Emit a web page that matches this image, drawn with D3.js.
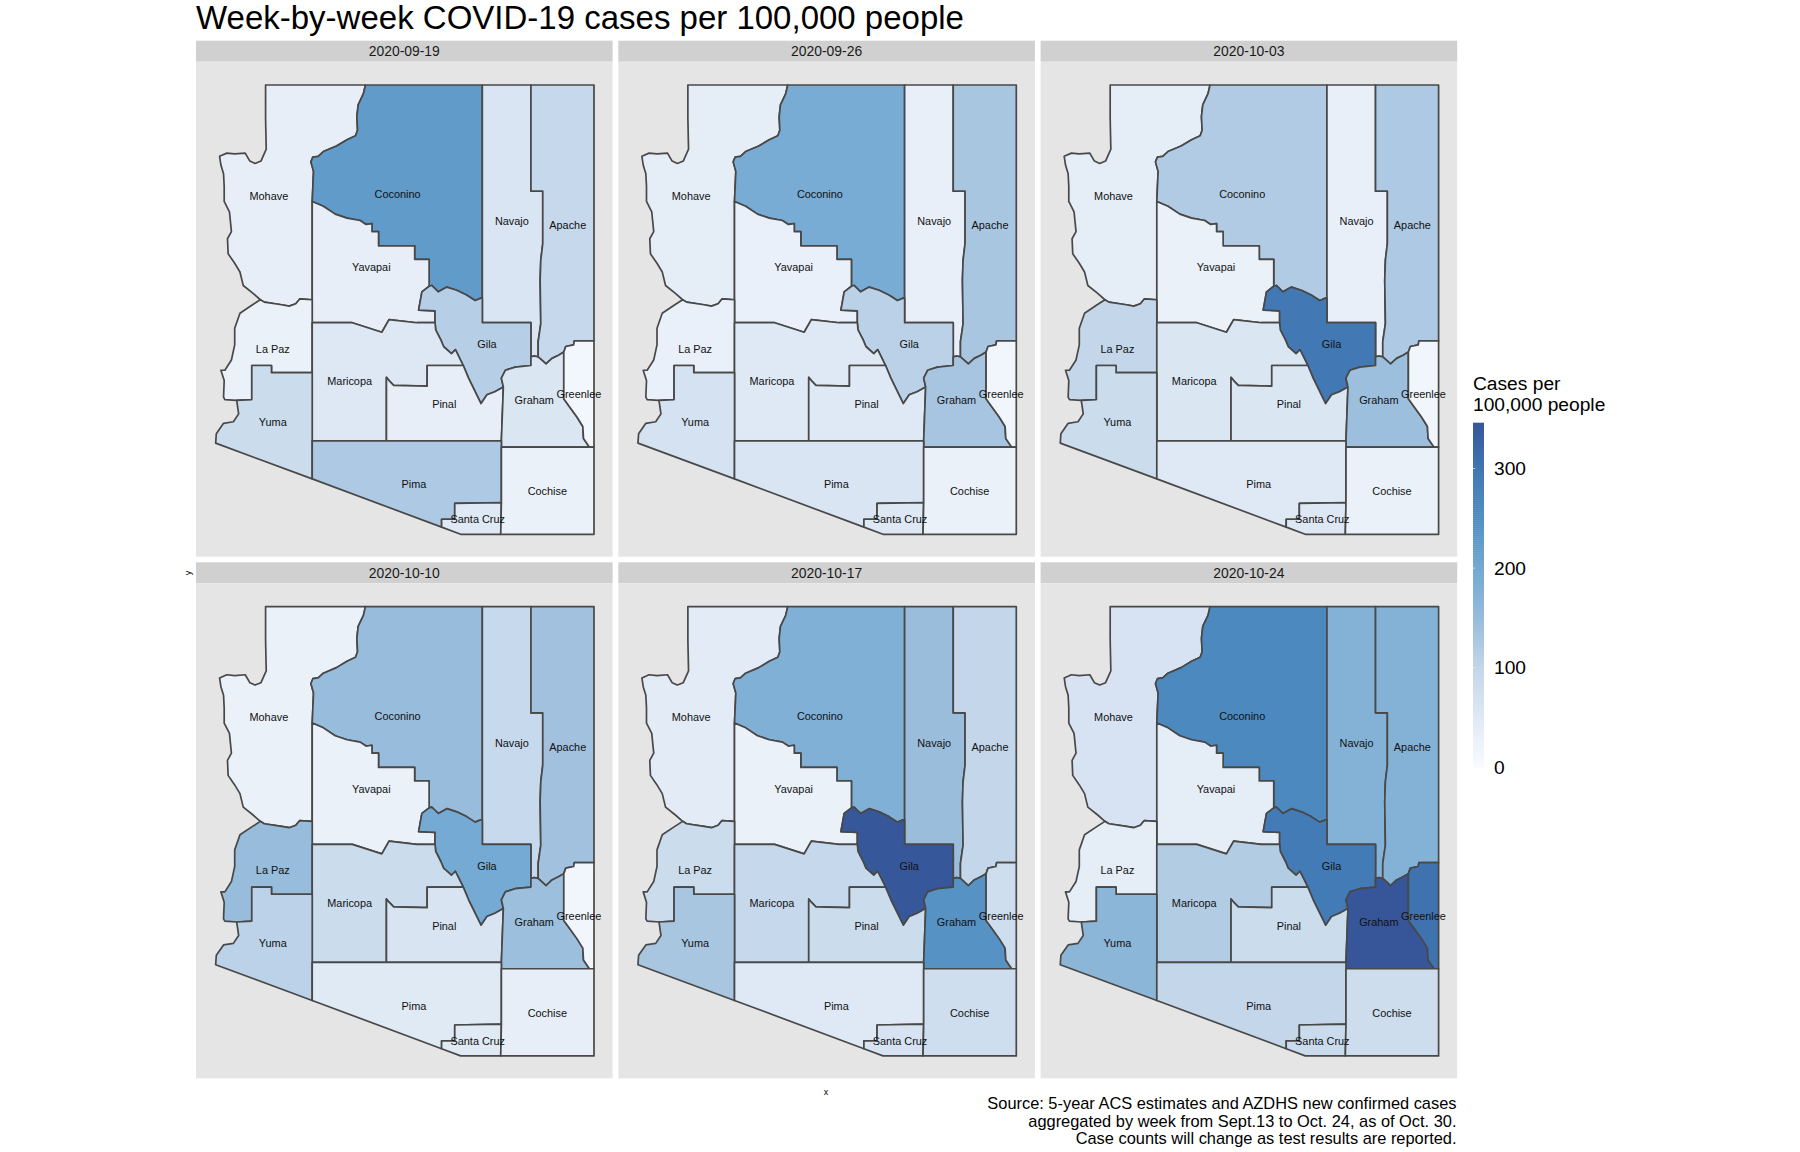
<!DOCTYPE html>
<html>
<head>
<meta charset="utf-8">
<style>
  body { margin: 0; background: #fff; }
  text { font-family: "Liberation Sans", Arial, sans-serif; }
</style>
<script src="https://cdn.jsdelivr.net/npm/d3@7"></script>
</head>
<body>
<div id="chart"></div>
<script>
const weeks = ["2020-09-19", "2020-09-26", "2020-10-03", "2020-10-10", "2020-10-17", "2020-10-24"];
const counties = ["Mohave", "Coconino", "Navajo", "Apache", "Yavapai", "Gila", "La Paz", "Maricopa", "Pinal", "Graham", "Greenlee", "Yuma", "Pima", "Santa Cruz", "Cochise"];

// cases per 100,000, same order as counties
const casesWeek1 = [35, 225, 60, 95, 35, 115, 28, 52, 35, 58, 12, 85, 125, 50, 28];
const casesWeek2 = [38, 190, 32, 130, 30, 110, 30, 50, 50, 132, 15, 68, 60, 52, 28];
const casesWeek3 = [38, 122, 32, 125, 28, 295, 98, 57, 58, 145, 15, 85, 50, 52, 28];
const casesWeek4 = [28, 150, 92, 140, 28, 195, 150, 85, 62, 145, 15, 108, 48, 48, 35];
const casesWeek5 = [45, 180, 148, 100, 28, 345, 85, 95, 85, 240, 80, 130, 50, 65, 80];
const casesWeek6 = [65, 260, 175, 175, 38, 290, 38, 120, 85, 346, 305, 165, 100, 88, 82];
const casesByWeek = [casesWeek1, casesWeek2, casesWeek3, casesWeek4, casesWeek5, casesWeek6];

const labelLon = [-114.00, -112.04, -110.30, -109.45, -112.44, -110.68, -113.94, -112.77, -111.33, -109.96, -109.28, -113.94, -111.79, -110.82, -109.76];
const labelLat = [35.60, 35.62, 35.28, 35.23, 34.70, 33.73, 33.67, 33.26, 32.97, 33.02, 33.10, 32.75, 31.96, 31.52, 31.87];

const legendTicks = [0, 100, 200, 300];
const legendStops = [0, 50, 100, 150, 200, 250, 300, 346];
const legendColors = ["#f8fbff", "#dfe9f5", "#c3d6ea", "#98bcdb", "#70a8d2", "#4f8dc1", "#4077b3", "#37569a"];

// county borders as lon/lat, shared between neighbours
const arcs = {
  topMohave: [[-114.05,37],[-112.53,37]],
  topCoconino: [[-112.53,37],[-110.75,37]],
  topNavajo: [[-110.75,37],[-110.01,37]],
  topApache: [[-110.01,37],[-109.05,37]],
  mohaveRiver: [[-114.05,37],[-114.05,36.58],[-114.04,36.19],[-114.12,36.04],[-114.21,36.01],[-114.29,36.04],[-114.36,36.14],[-114.52,36.13],[-114.64,36.14],[-114.75,36.10],[-114.73,35.99],[-114.69,35.88],[-114.68,35.72],[-114.68,35.53],[-114.60,35.40],[-114.57,35.15],[-114.63,35.06],[-114.62,34.87],[-114.52,34.75],[-114.44,34.64],[-114.39,34.47],[-114.24,34.37],[-114.13,34.29]],
  mohaveLaPaz: [[-114.13,34.29],[-114.07,34.26],[-113.83,34.23],[-113.69,34.21],[-113.59,34.24],[-113.53,34.30],[-113.34,34.29]],
  mohaveYavapai: [[-113.34,34.29],[-113.34,35.53]],
  mohaveCoconino: [[-113.34,35.53],[-113.32,35.91],[-113.36,36.03],[-113.33,36.09],[-113.25,36.10],[-113.17,36.16],[-112.97,36.23],[-112.81,36.31],[-112.68,36.36],[-112.65,36.43],[-112.66,36.60],[-112.64,36.75],[-112.56,36.89],[-112.53,37]],
  coconinoYavapai: [[-113.34,35.53],[-113.17,35.47],[-112.99,35.37],[-112.81,35.32],[-112.61,35.29],[-112.52,35.24],[-112.43,35.25],[-112.43,35.15],[-112.33,35.15],[-112.33,34.97],[-111.78,34.97],[-111.78,34.80],[-111.56,34.80],[-111.56,34.46]],
  coconinoGila: [[-111.56,34.46],[-111.52,34.47],[-111.47,34.43],[-111.42,34.39],[-111.29,34.45],[-111.14,34.41],[-110.99,34.35],[-110.86,34.28],[-110.77,34.31]],
  coconinoNavajo: [[-110.75,37],[-110.75,34.31]],
  gilaNavajo: [[-110.77,34.31],[-110.75,34.31],[-110.75,34.00],[-110.01,34.00]],
  yavapaiGila: [[-111.56,34.46],[-111.67,34.39],[-111.72,34.16],[-111.47,34.15],[-111.47,34.00]],
  yavapaiMaricopa: [[-113.34,34.00],[-112.73,34.00],[-112.28,33.88],[-112.17,34.04],[-111.75,34.00],[-111.47,34.00]],
  laPazYavapai: [[-113.34,34.29],[-113.34,34.00]],
  laPazMaricopa: [[-113.34,34.00],[-113.34,33.37]],
  yumaMaricopa: [[-113.34,33.37],[-113.34,32.51]],
  yumaPima: [[-113.34,32.51],[-113.34,32.03]],
  maricopaGila: [[-111.47,34.00],[-111.46,33.91],[-111.38,33.78],[-111.34,33.70],[-111.22,33.61],[-111.16,33.66],[-111.04,33.46]],
  gilaPinal: [[-111.04,33.46],[-110.96,33.30],[-110.77,32.98]],
  gilaPinalEast: [[-110.77,32.98],[-110.68,33.09],[-110.56,33.13],[-110.43,33.19]],
  gilaGraham: [[-110.43,33.19],[-110.46,33.30],[-110.40,33.40],[-110.25,33.44],[-110.01,33.46]],
  gilaEastGraham: [[-110.01,33.46],[-110.01,33.57]],
  gilaEastNavajo: [[-110.01,33.57],[-110.01,34.00]],
  navajoApache: [[-110.01,37],[-110.01,35.66],[-109.83,35.66],[-109.83,35.00],[-109.86,34.79],[-109.87,34.54],[-109.86,33.99],[-109.90,33.76],[-109.90,33.57]],
  navajoGraham: [[-109.90,33.57],[-109.96,33.58],[-110.01,33.57]],
  apacheGraham: [[-109.90,33.57],[-109.78,33.48],[-109.69,33.55],[-109.59,33.59],[-109.51,33.63]],
  apacheGreenlee: [[-109.51,33.63],[-109.48,33.70],[-109.36,33.72],[-109.35,33.77],[-109.05,33.77]],
  eastApache: [[-109.05,37],[-109.05,33.77]],
  eastGreenlee: [[-109.05,33.77],[-109.05,32.43]],
  bottomGreenlee: [[-109.05,32.43],[-109.12,32.43]],
  grahamGreenlee: [[-109.51,33.63],[-109.51,33.04],[-109.44,32.96],[-109.31,32.81],[-109.22,32.69],[-109.21,32.54],[-109.12,32.43]],
  bottomGraham: [[-109.12,32.43],[-110.46,32.43]],
  grahamPinal: [[-110.43,33.19],[-110.46,32.51]],
  grahamPima: [[-110.46,32.51],[-110.46,32.43]],
  maricopaPinal: [[-112.21,32.51],[-112.21,33.31],[-112.17,33.27],[-112.10,33.21],[-111.59,33.20],[-111.59,33.46],[-111.04,33.46]],
  pinalPima: [[-112.21,32.51],[-110.46,32.51]],
  maricopaPima: [[-113.34,32.51],[-112.21,32.51]],
  laPazYuma: [[-113.34,33.37],[-113.96,33.37],[-113.96,33.46],[-114.26,33.46],[-114.26,33.03],[-114.49,33.02]],
  laPazRiver: [[-114.13,34.29],[-114.26,34.22],[-114.44,34.12],[-114.52,33.93],[-114.52,33.72],[-114.57,33.53],[-114.67,33.40],[-114.73,33.40],[-114.68,33.27],[-114.69,33.06],[-114.67,33.03],[-114.49,33.02]],
  yumaRiver: [[-114.49,33.02],[-114.46,32.85],[-114.54,32.75],[-114.69,32.73],[-114.80,32.60],[-114.81,32.48]],
  swYuma: [[-114.81,32.48],[-113.34,32.03]],
  swPima: [[-113.34,32.03],[-111.37,31.42]],
  pimaCochise: [[-110.46,32.43],[-110.46,31.73]],
  pimaSantaCruz: [[-110.46,31.73],[-111.17,31.72],[-111.17,31.52],[-111.37,31.52],[-111.37,31.42]],
  swSantaCruz: [[-111.37,31.42],[-111.08,31.33]],
  bottomSantaCruz: [[-111.08,31.33],[-110.47,31.33]],
  santaCruzCochise: [[-110.47,31.33],[-110.46,31.73]],
  eastCochise: [[-109.05,32.43],[-109.05,31.33]],
  bottomCochise: [[-109.05,31.33],[-110.47,31.33]]
};

// rings per county, "-" means walk the arc backwards
const rings = {
  "Mohave": ["topMohave", "-mohaveCoconino", "-mohaveYavapai", "-mohaveLaPaz", "-mohaveRiver"],
  "Coconino": ["topCoconino", "coconinoNavajo", "-coconinoGila", "-coconinoYavapai", "mohaveCoconino"],
  "Navajo": ["topNavajo", "navajoApache", "navajoGraham", "gilaEastNavajo", "-gilaNavajo", "-coconinoNavajo"],
  "Apache": ["topApache", "eastApache", "-apacheGreenlee", "-apacheGraham", "-navajoApache"],
  "Yavapai": ["coconinoYavapai", "yavapaiGila", "-yavapaiMaricopa", "-laPazYavapai", "mohaveYavapai"],
  "Gila": ["coconinoGila", "gilaNavajo", "-gilaEastNavajo", "-gilaEastGraham", "-gilaGraham", "-gilaPinalEast", "-gilaPinal", "-maricopaGila", "-yavapaiGila"],
  "La Paz": ["mohaveLaPaz", "laPazYavapai", "laPazMaricopa", "laPazYuma", "-laPazRiver"],
  "Maricopa": ["yavapaiMaricopa", "maricopaGila", "-maricopaPinal", "-maricopaPima", "-yumaMaricopa", "-laPazMaricopa"],
  "Pinal": ["maricopaPinal", "gilaPinal", "gilaPinalEast", "grahamPinal", "-pinalPima"],
  "Graham": ["-navajoGraham", "apacheGraham", "grahamGreenlee", "bottomGraham", "-grahamPima", "-grahamPinal", "gilaGraham", "gilaEastGraham"],
  "Greenlee": ["apacheGreenlee", "eastGreenlee", "bottomGreenlee", "-grahamGreenlee"],
  "Yuma": ["-laPazYuma", "yumaMaricopa", "yumaPima", "-swYuma", "-yumaRiver"],
  "Pima": ["maricopaPima", "pinalPima", "grahamPima", "pimaCochise", "pimaSantaCruz", "-swPima", "-yumaPima"],
  "Santa Cruz": ["pimaSantaCruz", "swSantaCruz", "bottomSantaCruz", "santaCruzCochise"],
  "Cochise": ["-bottomGraham", "-bottomGreenlee", "eastCochise", "bottomCochise", "santaCruzCochise", "-pimaCochise"]
};

const width = 1800, height = 1152;
const panelLeft = 196, panelW = 416.6, gapX = 5.7;
const rowTop = [40.7, 562.3], stripH = 21, panelH = 495;

const svg = d3.select("#chart").append("svg")
  .attr("width", width)
  .attr("height", height)
  .style("display", "block");

const color = d3.scaleLinear().domain(legendStops).range(legendColors).interpolate(d3.interpolateRgb);

// same map scales for every facet, only translated
const lonScale = d3.scaleLinear().domain([-114.82, -109.05]).range([19, 398]);
const latScale = d3.scaleLinear().domain([37, 31.33]).range([23.3, 472.6]);
const line = d3.line().x(d => lonScale(d[0])).y(d => latScale(d[1]));

function ringCoords(county) {
  let pts = [];
  rings[county].forEach(name => {
    const a = name[0] === "-" ? arcs[name.slice(1)].slice().reverse() : arcs[name];
    pts = pts.concat(a);
  });
  return pts;
}

weeks.forEach((week, w) => {
  const col = w % 3, row = Math.floor(w / 3);
  const g = svg.append("g")
    .attr("transform", `translate(${panelLeft + col * (panelW + gapX)},${rowTop[row]})`);

  g.append("rect").attr("width", panelW).attr("height", stripH).attr("fill", "#d0d0d0");
  g.append("text")
    .attr("x", panelW / 2)
    .attr("y", stripH / 2 + 5)
    .attr("text-anchor", "middle")
    .attr("font-size", 13.9)
    .attr("fill", "#1a1a1a")
    .text(week);

  const p = g.append("g").attr("transform", `translate(0,${stripH})`);
  p.append("rect").attr("width", panelW).attr("height", panelH).attr("fill", "#e5e5e5");

  p.selectAll("path.county")
    .data(counties)
    .enter()
    .append("path")
    .attr("class", "county")
    .attr("d", d => line(ringCoords(d)) + "Z")
    .attr("fill", (d, i) => color(casesByWeek[w][i]))
    .attr("stroke", "#484848")
    .attr("stroke-width", 1.7)
    .attr("stroke-linejoin", "round");

  p.selectAll("text.name")
    .data(counties)
    .enter()
    .append("text")
    .attr("class", "name")
    .attr("x", (d, i) => lonScale(labelLon[i]))
    .attr("y", (d, i) => latScale(labelLat[i]) + 3.9)
    .attr("text-anchor", "middle")
    .attr("font-size", 10.9)
    .attr("fill", "#111")
    .text(d => d);
});

// title, axis stubs and caption
svg.append("text").attr("x", 196).attr("y", 29).attr("font-size", 33).attr("fill", "#000")
  .text("Week-by-week COVID-19 cases per 100,000 people");
svg.append("text").attr("x", 826).attr("y", 1095).attr("text-anchor", "middle").attr("font-size", 9).attr("fill", "#000").text("x");
svg.append("text").attr("transform", "translate(191,573) rotate(-90)").attr("text-anchor", "middle").attr("font-size", 9).attr("fill", "#000").text("y");

const caption = [
  "Source: 5-year ACS estimates and AZDHS new confirmed cases",
  "aggregated by week from Sept.13 to Oct. 24, as of Oct. 30.",
  "Case counts will change as test results are reported."
];
svg.selectAll("text.caption")
  .data(caption)
  .enter()
  .append("text")
  .attr("class", "caption")
  .attr("x", 1456.5)
  .attr("y", (d, i) => 1109 + i * 17.5)
  .attr("text-anchor", "end")
  .attr("font-size", 16.4)
  .attr("fill", "#000")
  .text(d => d);

// colour bar
const legendY = d3.scaleLinear().domain([0, 346]).range([767.3, 422.7]);
const legendX = 1473, legendW = 11;
const legend = svg.append("g");
legend.selectAll("rect")
  .data(d3.range(0, 346, 2))
  .enter()
  .append("rect")
  .attr("x", legendX)
  .attr("y", d => legendY(d + 2))
  .attr("width", legendW)
  .attr("height", d => legendY(d) - legendY(d + 2) + 0.5)
  .attr("fill", d => color(d + 1));
legend.selectAll("line")
  .data(legendTicks)
  .enter()
  .append("line")
  .attr("x1", legendX).attr("x2", legendX + 2.2)
  .attr("y1", d => legendY(d)).attr("y2", d => legendY(d))
  .attr("stroke", "#fff").attr("stroke-width", 0.6);

const axis = svg.append("g")
  .attr("transform", `translate(${legendX + legendW + 10},0)`)
  .call(d3.axisRight(legendY).tickValues(legendTicks).tickSize(0).tickPadding(0));
axis.select(".domain").remove();
axis.selectAll("text").attr("font-size", 19.2).attr("font-family", '"Liberation Sans", Arial, sans-serif').attr("fill", "#000");

svg.append("text").attr("x", legendX).attr("y", 390).attr("font-size", 19.2).attr("fill", "#000").text("Cases per");
svg.append("text").attr("x", legendX).attr("y", 410.5).attr("font-size", 19.2).attr("fill", "#000").text("100,000 people");
</script>
</body>
</html>
